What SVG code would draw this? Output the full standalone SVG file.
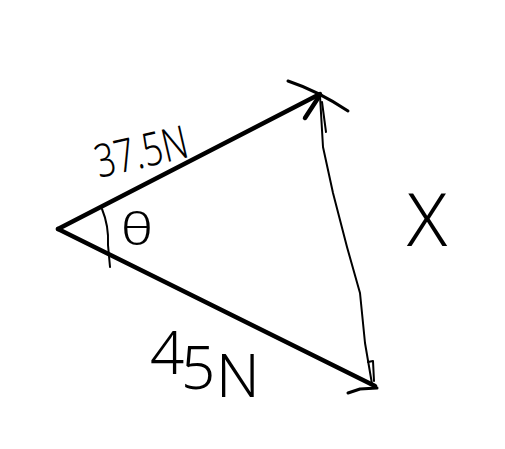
<svg xmlns="http://www.w3.org/2000/svg" width="505" height="449" viewBox="0 0 505 449">
<style>
.ln{fill:none;stroke:#000;stroke-linecap:round;stroke-linejoin:round}
.thick{stroke-width:4.5}
.mid{stroke-width:3}
.thin{stroke-width:2}
.lbl{font-family:"Noto Sans","Liberation Sans",Arial,sans-serif;font-weight:300;fill:#000}
</style>
<rect width="505" height="449" fill="#fff"/>
<g id="connectors">
<path id="v375" class="ln thick" d="M58,229 L320,94"/>
<path class="ln mid" d="M288,81 Q318,91 348,111"/>
<path class="ln thick" d="M320,95 L305,118"/>
<path id="v45" class="ln thick" d="M58,229 L375,386"/>
<path class="ln mid" d="M348,393 L360,389 L377,388"/>
<path id="vX" class="ln thin" d="M320,96 L323,147 L333,193 L347,247 L360,293 L365,343 L372,384"/>
<path class="ln thin" d="M322,102 L326,132"/>
<path class="ln thin" d="M368,362 L373,361 L374,381"/>
<path id="arc" class="ln thin" d="M102,209 Q109,226 108,245 L110,267"/>
</g>
<g id="label-375">
<text class="lbl" font-size="46" transform="translate(99,178) rotate(-13)" textLength="94" lengthAdjust="spacingAndGlyphs">37.5N</text>
</g>
<g id="label-45">
<text class="lbl" font-size="60" x="150 181 216" y="374 389 397">45N</text>
</g>
<g id="label-theta">
<text class="lbl" font-size="44" text-anchor="middle" transform="translate(137,245) scale(1.25,1)">θ</text>
</g>
<g id="label-X">
<text class="lbl" font-size="74" font-weight="200" text-anchor="middle" x="427" y="246">X</text>
</g>
</svg>
